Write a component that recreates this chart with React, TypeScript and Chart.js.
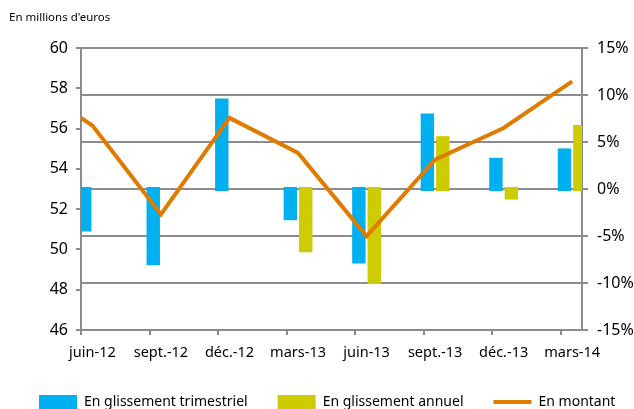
import { useEffect, useRef } from 'react';
import { Chart, registerables } from 'chart.js';

Chart.register(...registerables);

const unitTitle = "En millions d'euros";
const categories = ['juin-12', 'sept.-12', 'déc.-12', 'mars-13', 'juin-13', 'sept.-13', 'déc.-13', 'mars-14'];
const trimestriel = [-4.2, -7.8, 9.3, -3.0, -7.6, 7.7, 3.0, 4.0];
const annuel: (number | null)[] = [null, null, null, -6.4, -9.8, 5.3, -0.8, 6.5];
const montantStart = 56.53;
const montant = [56.15, 51.74, 56.53, 54.79, 50.66, 54.46, 56.03, 58.34];
const legendLabels = ['En glissement trimestriel', 'En glissement annuel', 'En montant'];

// x axis in months since June 2012; quarterly points are mid-month
const MONTHS_PER_QUARTER = 3;
const MID_MONTH = 0.5;
const AXIS_END = 21.93;

const BLUE = '#00B0F0';
const YELLOW = '#CCCC00';
const ORANGE = '#E07B00';
const GRAY = '#8c8c8c';
const FONT = 'Noto Sans';

export default function App() {
  const ref = useRef<HTMLCanvasElement>(null);

  useEffect(() => {
    if (!ref.current) return;
    const xAt = (i: number) => i * MONTHS_PER_QUARTER + MID_MONTH;
    const chart = new Chart(ref.current, {
      type: 'bar',
      data: {
        datasets: [
          {
            type: 'bar',
            label: legendLabels[0],
            data: trimestriel.map((v, i) => ({ x: xAt(i), y: v })),
            backgroundColor: BLUE,
            borderWidth: 0,
            yAxisID: 'yR',
            xAxisID: 'x',
            order: 1,
            clip: 0,
            categoryPercentage: 0.45,
            barPercentage: 0.48,
            inflateAmount: 3,
          } as any,
          {
            type: 'bar',
            label: legendLabels[1],
            data: annuel.map((v, i) => ({ x: xAt(i), y: v })),
            backgroundColor: YELLOW,
            borderWidth: 0,
            yAxisID: 'yR',
            xAxisID: 'x',
            order: 1,
            categoryPercentage: 0.45,
            barPercentage: 0.48,
            inflateAmount: 3,
          } as any,
          {
            type: 'line',
            label: legendLabels[2],
            data: [{ x: 0, y: montantStart }, ...montant.map((v, i) => ({ x: xAt(i), y: v }))],
            borderColor: ORANGE,
            backgroundColor: ORANGE,
            borderWidth: 4,
            pointRadius: 0,
            tension: 0,
            yAxisID: 'yL',
            xAxisID: 'x',
            order: 0,
          } as any,
        ],
      },
      options: {
        responsive: false,
        maintainAspectRatio: false,
        animation: false,
        layout: { padding: { left: 9, right: 0, top: 0, bottom: 0 } },
        plugins: {
          title: {
            display: true,
            text: unitTitle,
            align: 'start',
            color: '#000',
            font: { family: FONT, size: 11.5, weight: 'normal' },
            padding: { top: 10.6, bottom: 23.6 },
          },
          legend: {
            position: 'bottom',
            align: 'start',
            labels: {
              usePointStyle: true,
              pointStyleWidth: 38,
              boxHeight: 14,
              padding: 30,
              color: '#000',
              font: { family: FONT, size: 14 },
              generateLabels: () => [
                { text: legendLabels[0], fillStyle: BLUE, strokeStyle: BLUE, lineWidth: 0, pointStyle: 'rect', hidden: false, datasetIndex: 0 },
                { text: legendLabels[1], fillStyle: YELLOW, strokeStyle: YELLOW, lineWidth: 0, pointStyle: 'rect', hidden: false, datasetIndex: 1 },
                { text: legendLabels[2], fillStyle: ORANGE, strokeStyle: ORANGE, lineWidth: 4, pointStyle: 'line', hidden: false, datasetIndex: 2 },
              ] as any,
            },
          },
          tooltip: { enabled: false },
        },
        scales: {
          // tick-mark axis: quarter boundaries
          x: {
            type: 'linear',
            position: 'bottom',
            min: 0,
            max: AXIS_END,
            offset: false,
            afterBuildTicks: (s: any) => {
              s.ticks = categories.map((_, i) => ({ value: i * MONTHS_PER_QUARTER }));
            },
            afterFit: (s: any) => {
              s.height = 0;
            },
            ticks: { display: false },
            grid: { drawOnChartArea: false, drawTicks: true, tickLength: 5, color: GRAY, lineWidth: 2, offset: false },
            border: { display: true, color: GRAY, width: 2 },
          } as any,
          // label axis: labels centred on the data points
          xl: {
            type: 'linear',
            axis: 'x',
            position: 'bottom',
            min: 0,
            max: AXIS_END,
            offset: false,
            afterBuildTicks: (s: any) => {
              s.ticks = categories.map((_, i) => ({ value: xAt(i) }));
            },
            afterFit: (s: any) => {
              s.height = 35;
            },
            ticks: {
              callback: (_v: any, i: number) => categories[i],
              autoSkip: false,
              maxRotation: 0,
              color: '#000',
              font: { family: FONT, size: 14.5 },
              padding: 6,
            },
            grid: { display: false },
            border: { display: false },
          } as any,
          yL: {
            type: 'linear',
            position: 'left',
            min: 46,
            max: 60,
            afterFit: (s: any) => {
              s.width = 72;
            },
            ticks: { stepSize: 2, color: '#000', font: { family: FONT, size: 16 }, padding: 8 },
            grid: { drawOnChartArea: false, drawTicks: true, tickLength: 5, color: GRAY, lineWidth: 2 },
            border: { display: true, color: GRAY, width: 2 },
          } as any,
          yR: {
            type: 'linear',
            position: 'right',
            min: -15,
            max: 15,
            afterFit: (s: any) => {
              s.width = 78;
            },
            ticks: {
              stepSize: 5,
              callback: (v: any) => `${v}%`,
              color: '#000',
              font: { family: FONT, size: 16 },
              padding: 9,
            },
            grid: { drawOnChartArea: true, drawTicks: true, tickLength: 6, color: GRAY, lineWidth: 2 },
            border: { display: true, color: GRAY, width: 2 },
          } as any,
        },
      },
    });
    return () => chart.destroy();
  }, []);

  return (
    <div style={{ position: 'absolute', left: 0, top: 0, width: 634, height: 409, overflow: 'hidden' }}>
      <canvas ref={ref} width={660} height={419} style={{ display: 'block', width: 660, height: 419 }} />
    </div>
  );
}
